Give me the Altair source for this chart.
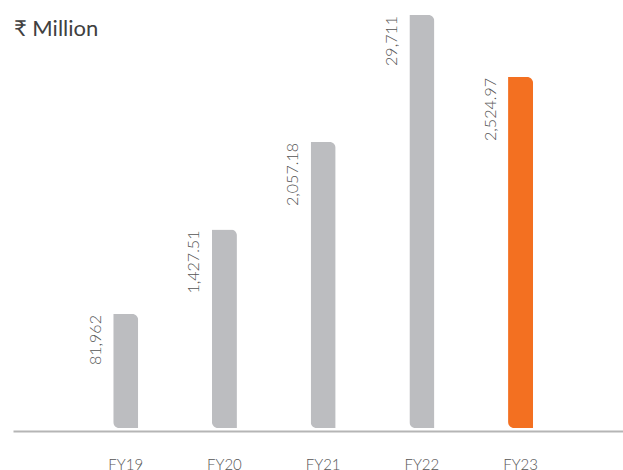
import altair as alt
import pandas as pd

years = ["FY19", "FY20", "FY21", "FY22", "FY23"]
values = [819.62, 1427.51, 2057.18, 2971.10, 2524.97]
value_labels = ["81,962", "1,427.51", "2,057.18", "29,711", "2,524.97"]
is_latest = [False, False, False, False, True]
unit_text = ["₹ Million"]

df = pd.DataFrame({"year": years, "value": values, "label": value_labels, "latest": is_latest})
unit_df = pd.DataFrame({"t": unit_text})

x = alt.X("year:N", sort=years, title=None,
          scale=alt.Scale(paddingInner=0.7467, paddingOuter=0.963, align=0.527),
          axis=alt.Axis(labelAngle=0, ticks=False, domainColor="#b5b5b5", domainWidth=2,
                        offset=3, labelPadding=26, labelFont="Lato", labelFontSize=15,
                        labelFontWeight=300, labelColor="#555555", grid=False))
y = alt.Y("value:Q", title=None, axis=None,
          scale=alt.Scale(domain=[0, 2971.10], nice=False, zero=True))

base = alt.Chart(df)

bars = base.mark_bar(cornerRadiusTopRight=6, cornerRadiusBottomLeft=6).encode(
    x=x, y=y,
    color=alt.Color("latest:N", legend=None,
                    scale=alt.Scale(domain=[False, True], range=["#BCBDC0", "#F37021"])),
)

texts = base.mark_text(angle=270, align="right", baseline="middle", dy=-30, dx=-1,
                       font="Lato", fontSize=16, fontWeight=300, color="#555555").encode(
    x=x, y=y, text="label:N")

unit = alt.Chart(unit_df).mark_text(align="left", baseline="alphabetic", font="Lato",
                                    fontSize=22, fontWeight=400, color="#404040").encode(
    x=alt.value(1), y=alt.value(21), text="t:N")

chart = alt.layer(bars, texts, unit).properties(
    width=610, height=413,
    autosize=alt.AutoSizeParams(type="none"),
    padding={"left": 13, "top": 15, "right": 0, "bottom": 42},
).configure_view(stroke=None)

chart.save("out.html", embed_options={"renderer": "svg", "actions": False})
